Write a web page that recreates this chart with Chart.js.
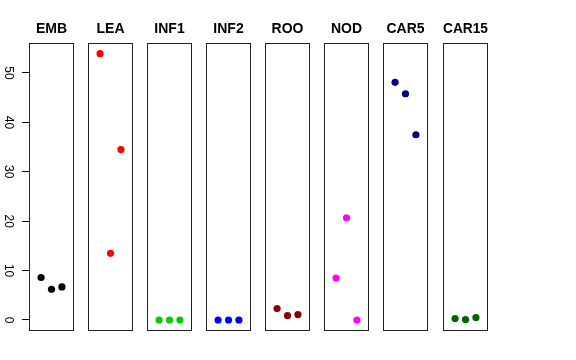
<!DOCTYPE html>
<html>
<head>
<meta charset="utf-8">
<script src="https://cdn.jsdelivr.net/npm/chart.js@4/dist/chart.umd.min.js"></script>
<style>
  body { margin: 0; background: #fff; }
  #wrap { position: relative; width: 576px; height: 360px; background: #fff; }
  #wrap canvas { position: absolute; top: 0; }
</style>
</head>
<body>
<div id="wrap"></div>
<script>
// paneles y valores
const paneles = ["EMB", "LEA", "INF1", "INF2", "ROO", "NOD", "CAR5", "CAR15"]
const colores = ["#000000", "#ff0000", "#00cd00", "#0000ff", "#8b0000", "#ff00ff", "#000080", "#006400"]
const posiciones = [1, 2, 3]

const valEMB = [8.6, 6.2, 6.7]
const valLEA = [53.9, 13.5, 34.5]
const valINF1 = [0, 0, 0]
const valINF2 = [0, 0, 0]
const valROO = [2.3, 0.9, 1.1]
const valNOD = [8.5, 20.7, 0]
const valCAR5 = [48.1, 45.8, 37.5]
const valCAR15 = [0.3, 0.1, 0.5]
const valores = [valEMB, valLEA, valINF1, valINF2, valROO, valNOD, valCAR5, valCAR15]

const ticksY = [0, 10, 20, 30, 40, 50]

const ejeY = { min: -2.23, max: 56.07 }
const ejeX = { min: -0.16, max: 4.16 }

const caja = {
    id: "caja",
    afterDatasetsDraw(chart) {
        const { ctx, chartArea: a } = chart
        ctx.save()
        ctx.strokeStyle = "#222"
        ctx.lineWidth = 1
        ctx.strokeRect(a.left + 0.5, a.top + 0.5, a.right - a.left - 1, a.bottom - a.top - 1)
        ctx.restore()
    }
}

const wrap = document.querySelector("#wrap")
const izquierdas = [29, 88, 147, 206, 265, 324, 383, 443]
const ancho = 45

paneles.forEach((nombre, i) => {
    const conEje = i === 0
    const lienzo = document.createElement("canvas")
    const w = conEje ? izquierdas[0] + ancho : ancho
    lienzo.style.left = (conEje ? 0 : izquierdas[i]) + "px"
    lienzo.style.width = w + "px"
    lienzo.style.height = "360px"
    lienzo.width = w
    lienzo.height = 360
    wrap.appendChild(lienzo)

    const puntos = posiciones.map((x, j) => ({ x: x, y: valores[i][j] }))

    const escalaY = {
        type: "linear",
        display: conEje,
        min: ejeY.min,
        max: ejeY.max,
        afterBuildTicks: s => { s.ticks = ticksY.map(v => ({ value: v })) },
        border: { display: false },
        grid: { display: true, drawOnChartArea: false, drawTicks: true, tickLength: 7, color: "#000" },
        ticks: {
            color: "#000",
            font: { family: "Liberation Sans, Arial, sans-serif", size: 12 },
            minRotation: 270,
            maxRotation: 270,
            crossAlign: "center",
            padding: 7
        }
    }
    if (conEje) escalaY.afterFit = s => { s.width = izquierdas[0] }

    new Chart(lienzo, {
        type: "scatter",
        data: {
            datasets: [{
                data: puntos,
                backgroundColor: colores[i],
                borderWidth: 0,
                pointRadius: 3.6
            }]
        },
        options: {
            responsive: false,
            animation: false,
            layout: { autoPadding: false, padding: { top: 0, bottom: 29, left: 0, right: 0 } },
            plugins: {
                legend: { display: false },
                tooltip: { enabled: false },
                title: {
                    display: true,
                    text: nombre,
                    fullSize: false,
                    color: "#000",
                    font: { family: "Liberation Sans, Arial, sans-serif", size: 14, weight: "bold", lineHeight: 1.2 },
                    padding: { top: 21, bottom: 5.2 }
                }
            },
            scales: {
                x: { type: "linear", display: false, min: ejeX.min, max: ejeX.max },
                y: escalaY
            }
        },
        plugins: [caja]
    })
})
</script>
</body>
</html>
